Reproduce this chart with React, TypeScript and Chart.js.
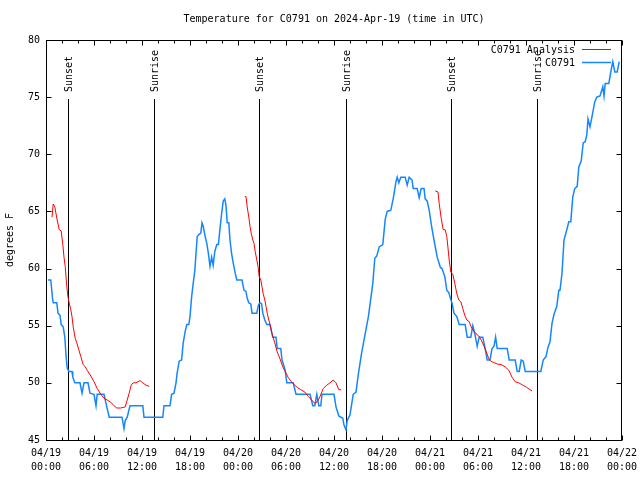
import React, { useEffect, useRef } from 'react';
import { Chart, registerables } from 'chart.js';

Chart.register(...registerables);

const TITLE = 'Temperature for C0791 on 2024-Apr-19 (time in UTC)';
const Y_TITLE = 'degrees F';
const ANALYSIS_LABEL = 'C0791 Analysis';
const OBS_LABEL = 'C0791';
const DAY_LABELS = ['04/19', '04/20', '04/21', '04/22'];

// hours since 2024-04-19 00:00 UTC
const SUNSET_HOURS = [2.79, 26.66, 50.66];
const SUNRISE_HOURS = [13.54, 37.45, 61.42];

const OBS_HOURS = [
  0.25, 0.6, 0.8, 0.9, 1.35, 1.5, 1.75, 1.9, 2.15, 2.35, 2.4, 2.5, 2.65, 2.85, 3.25, 3.35, 3.6, 4.25, 4.5, 4.75,
  5.25, 5.5, 6.0, 6.25, 6.4, 7.25, 7.5, 7.9, 9.5, 9.75, 9.9, 10.15, 10.5, 12.1, 12.25, 14.6, 14.75, 15.5, 15.7, 16.0,
  16.25, 16.4, 16.65, 16.95, 17.15, 17.4, 17.6, 17.85, 18.0, 18.2, 18.4, 18.6, 18.75, 18.9, 19.15, 19.35, 19.5, 19.65, 19.9, 20.1,
  20.3, 20.5, 20.7, 20.9, 21.1, 21.35, 21.55, 21.75, 21.95, 22.15, 22.35, 22.5, 22.65, 22.85, 23.0, 23.2, 23.4, 23.65, 23.85, 24.5,
  24.75, 25.0, 25.15, 25.35, 25.6, 25.75, 26.35, 26.55, 26.75, 26.95, 27.1, 27.35, 27.6, 28.0, 28.35, 28.75, 28.9, 29.35, 29.5, 29.65,
  29.9, 30.1, 30.9, 31.25, 33.0, 33.35, 33.6, 33.85, 34.1, 34.35, 34.5, 36.0, 36.25, 36.6, 37.1, 37.25, 37.5, 37.65, 38.0, 38.4,
  38.75, 39.05, 39.45, 39.9, 40.3, 40.6, 40.85, 41.1, 41.35, 41.65, 42.1, 42.4, 42.65, 43.1, 43.4, 43.75, 43.9, 44.1, 44.35, 44.9,
  45.15, 45.4, 45.75, 45.9, 46.4, 46.65, 46.9, 47.25, 47.4, 47.65, 47.9, 48.2, 48.5, 48.9, 49.3, 49.5, 49.85, 50.1, 50.35, 50.6,
  50.75, 51.0, 51.35, 51.65, 52.4, 52.65, 53.1, 53.35, 53.6, 53.9, 54.15, 54.6, 54.9, 55.15, 55.5, 55.75, 56.0, 56.2, 56.4, 57.65,
  57.9, 58.65, 58.9, 59.15, 59.4, 59.65, 59.9, 61.85, 62.15, 62.5, 62.75, 63.0, 63.25, 63.5, 63.85, 64.1, 64.25, 64.5, 64.75, 65.1,
  65.35, 65.6, 65.85, 66.1, 66.4, 66.6, 66.9, 67.15, 67.4, 67.6, 67.75, 68.0, 68.25, 68.6, 68.85, 69.25, 69.6, 69.75, 69.9, 70.35,
  70.6, 70.85, 71.1, 71.4, 71.65,
];
const OBS_TEMPS = [
  59.0, 59.0, 57.5, 57.0, 57.0, 56.1, 55.9, 55.1, 54.9, 54.0, 53.5, 52.4, 51.3, 51.0, 51.0, 50.5, 50.0, 50.0, 49.1, 50.0,
  50.0, 49.1, 49.0, 48.0, 49.0, 49.0, 48.2, 47.0, 47.0, 46.0, 46.7, 47.0, 48.0, 48.0, 47.0, 47.0, 48.0, 48.0, 49.0, 49.1,
  50.0, 50.9, 51.9, 52.0, 53.5, 54.5, 55.1, 55.1, 55.8, 57.5, 58.7, 59.8, 61.3, 62.8, 63.0, 63.1, 64.0, 63.7, 62.8, 62.2,
  61.3, 60.2, 61.0, 60.3, 61.5, 62.1, 62.1, 63.5, 64.8, 65.9, 66.1, 65.5, 64.0, 64.0, 62.5, 61.3, 60.5, 59.6, 59.0, 59.0,
  58.1, 58.0, 57.4, 57.0, 56.9, 56.1, 56.1, 56.8, 57.0, 56.9, 56.1, 55.5, 55.1, 55.1, 54.0, 54.0, 53.0, 53.0, 52.0, 51.7,
  51.1, 50.0, 50.0, 49.0, 49.0, 48.0, 48.0, 49.0, 48.0, 48.0, 49.0, 49.0, 47.9, 47.1, 46.9, 46.3, 45.9, 46.7, 47.2, 49.0,
  49.2, 50.8, 52.6, 54.3, 55.8, 57.4, 58.7, 60.9, 61.1, 61.9, 62.1, 64.3, 65.0, 65.1, 66.1, 67.6, 68.0, 67.5, 68.0, 68.0,
  67.3, 68.0, 67.75, 67.0, 67.0, 66.2, 67.0, 67.0, 66.1, 65.9, 65.1, 63.7, 62.5, 61.0, 60.1, 60.0, 59.3, 58.1, 57.9, 57.3,
  57.0, 56.1, 55.8, 55.1, 55.1, 54.0, 54.0, 55.0, 54.3, 53.2, 54.0, 54.0, 53.0, 52.0, 52.0, 53.0, 53.2, 54.0, 53.0, 53.0,
  52.0, 52.0, 51.0, 51.0, 52.0, 51.9, 51.0, 51.0, 52.0, 52.3, 53.1, 53.6, 55.2, 56.0, 56.7, 58.1, 58.1, 59.6, 62.5, 63.4,
  64.1, 64.1, 66.3, 67.0, 67.2, 68.9, 69.4, 71.0, 71.1, 71.7, 73.1, 72.4, 73.3, 74.6, 75.0, 75.1, 75.9, 75.1, 76.2, 76.2,
  77.2, 78.1, 77.2, 77.2, 78.1,
];

const ANALYSIS_HOURS = [
  0.75, 0.9, 1.1, 1.25, 1.4, 1.65, 1.9, 2.1, 2.25, 2.4, 2.6, 2.75, 2.9, 3.1, 3.25, 3.4, 3.65, 3.85, 4.1, 4.35,
  4.65, 4.9, 5.15, 5.6, 6.0, 6.4, 6.85, 7.25, 7.65, 8.1, 8.5, 8.85, 9.35, 9.9, 10.15, 10.4, 10.65, 10.9, 11.25, 11.75,
  12.1, 12.5, 12.9, 18.0,
  24.85, 25.0, 25.15, 25.35, 25.5, 25.65, 25.85, 26.0, 26.15, 26.35, 26.5, 26.65, 26.85, 27.0, 27.15, 27.35, 27.5, 27.65, 27.85, 28.0,
  28.25, 28.6, 28.9, 29.25, 29.6, 29.9, 30.25, 30.65, 31.1, 31.4, 31.85, 32.35, 32.8, 33.2, 33.6, 33.9, 34.25, 34.65, 35.1, 35.5,
  35.9, 36.25, 36.6, 36.9, 42.0,
  48.65, 49.0, 49.15, 49.4, 49.65, 49.9, 50.1, 50.25, 50.4, 50.6, 50.85, 51.1, 51.35, 51.6, 51.85, 52.1, 52.35, 52.6, 52.9, 53.15,
  53.4, 53.75, 54.1, 54.4, 54.75, 55.1, 55.35, 55.6, 55.9, 56.4, 56.9, 57.4, 57.85, 58.25, 58.65, 59.1, 59.6, 60.1, 60.5, 60.75,
];
const ANALYSIS_TEMPS = [
  64.5, 65.65, 65.4, 64.8, 64.25, 63.4, 63.3, 62.1, 61.0, 60.2, 58.4, 57.5, 57.0, 56.4, 55.8, 54.9, 53.9, 53.5, 52.9, 52.3,
  51.6, 51.4, 51.1, 50.6, 50.1, 49.5, 49.0, 48.65, 48.5, 48.3, 48.0, 47.8, 47.8, 47.9, 48.5, 49.1, 49.8, 50.0, 50.0, 50.2,
  50.0, 49.8, 49.7, null,
  66.3, 66.3, 65.4, 64.5, 63.7, 63.1, 62.5, 62.2, 61.5, 60.75, 60.2, 59.3, 59.0, 58.4, 57.8, 57.25, 56.7, 56.1, 55.5, 55.1,
  54.3, 53.5, 52.7, 52.1, 51.4, 51.0, 50.5, 50.1, 49.8, 49.6, 49.4, 49.2, 48.8, 48.5, 48.2, 48.35, 48.8, 49.5, 49.8, 50.0,
  50.25, 50.0, 49.4, 49.4, null,
  66.8, 66.7, 65.7, 64.4, 63.4, 63.4, 62.8, 61.8, 60.75, 59.7, 59.5, 58.7, 57.8, 57.25, 57.1, 56.5, 55.9, 55.5, 55.35, 54.9,
  54.6, 54.3, 54.1, 53.75, 53.2, 52.6, 52.1, 51.9, 51.8, 51.65, 51.6, 51.4, 51.1, 50.5, 50.1, 50.0, 49.8, 49.6, 49.4, 49.3,
];

const RED = '#ff0000';
const BLUE = 'rgb(20,135,255)';
const FONT_FAMILY = "'DejaVu Sans Mono', 'Liberation Mono', monospace";
const FONT = `10px ${FONT_FAMILY}`;

const pad2 = (n: number) => (n < 10 ? '0' + n : '' + n);

const gnuplotPlugin = {
  id: 'gnuplotDecor',
  beforeDatasetsDraw(chart: any) {
    const { ctx, chartArea } = chart;
    const xs = chart.scales.x;
    const ys = chart.scales.y;
    const L = Math.round(chartArea.left) + 0.5;
    const R = Math.round(chartArea.right) - 0.5;
    const T = Math.round(chartArea.top) + 0.5;
    const B = Math.round(chartArea.bottom) + 0.5;
    ctx.save();
    ctx.strokeStyle = '#000';
    ctx.lineWidth = 1;
    ctx.beginPath();
    // x ticks every 2 hours, major every 6
    for (let h = 0; h <= 72; h += 2) {
      const x = Math.round(xs.getPixelForValue(h)) + 0.5;
      const len = h % 6 === 0 ? 5 : 3;
      ctx.moveTo(x, B);
      ctx.lineTo(x, B - len);
      ctx.moveTo(x, T);
      ctx.lineTo(x, T + len);
    }
    for (let v = 45; v <= 80; v += 5) {
      const y = Math.round(ys.getPixelForValue(v)) + 0.5;
      ctx.moveTo(L, y);
      ctx.lineTo(L + 5, y);
      ctx.moveTo(R, y);
      ctx.lineTo(R - 5, y);
    }
    // sunrise / sunset lines
    const events = [...SUNSET_HOURS, ...SUNRISE_HOURS];
    for (const h of events) {
      const x = Math.round(xs.getPixelForValue(h)) + 0.5;
      ctx.moveTo(x, 99);
      ctx.lineTo(x, B);
    }
    ctx.stroke();
    ctx.strokeRect(L, T, R - L, B - T);
    ctx.restore();
  },
  afterDraw(chart: any) {
    const { ctx, chartArea } = chart;
    const xs = chart.scales.x;
    ctx.save();
    ctx.fillStyle = '#000';
    ctx.font = FONT;
    // title
    ctx.textAlign = 'center';
    ctx.textBaseline = 'middle';
    ctx.fillText(TITLE, (chartArea.left + chartArea.right) / 2, 19);
    // event labels
    const events = [
      ...SUNSET_HOURS.map((h) => ({ h, t: 'Sunset' })),
      ...SUNRISE_HOURS.map((h) => ({ h, t: 'Sunrise' })),
    ];
    for (const e of events) {
      const x = Math.round(xs.getPixelForValue(e.h)) + 0.5;
      ctx.save();
      ctx.translate(x + 1, 92);
      ctx.rotate(-Math.PI / 2);
      ctx.textAlign = 'left';
      ctx.textBaseline = 'middle';
      ctx.fillText(e.t, 0, 0);
      ctx.restore();
    }
    // legend
    ctx.textAlign = 'right';
    ctx.textBaseline = 'middle';
    ctx.fillText(ANALYSIS_LABEL, 575, 50);
    ctx.fillText(OBS_LABEL, 575, 63);
    ctx.lineWidth = 1;
    ctx.strokeStyle = RED;
    ctx.beginPath();
    ctx.moveTo(582, 49.5);
    ctx.lineTo(611, 49.5);
    ctx.stroke();
    ctx.lineWidth = 1.5;
    ctx.strokeStyle = BLUE;
    ctx.beginPath();
    ctx.moveTo(582, 62.5);
    ctx.lineTo(611, 62.5);
    ctx.stroke();
    ctx.restore();
  },
};

export default function App() {
  const canvasRef = useRef<HTMLCanvasElement | null>(null);

  useEffect(() => {
    document.body.style.margin = '0';
    const canvas = canvasRef.current;
    if (!canvas) return;
    const obsData = OBS_HOURS.map((h, i) => ({ x: h, y: OBS_TEMPS[i] }));
    const anaData = ANALYSIS_HOURS.map((h, i) => ({ x: h, y: ANALYSIS_TEMPS[i] }));
    const chart = new Chart(canvas, {
      type: 'line',
      data: {
        datasets: [
          {
            label: ANALYSIS_LABEL,
            data: anaData as any,
            borderColor: RED,
            borderWidth: 1,
            pointRadius: 0,
            tension: 0,
            spanGaps: false,
            fill: false,
          },
          {
            label: OBS_LABEL,
            data: obsData as any,
            borderColor: BLUE,
            borderWidth: 1.5,
            pointRadius: 0,
            tension: 0,
            fill: false,
          },
        ],
      },
      options: {
        responsive: false,
        animation: false,
        devicePixelRatio: 1,
        layout: { padding: { top: 40, right: 18, left: 0, bottom: 0 } },
        plugins: {
          legend: { display: false },
          title: { display: false },
          tooltip: { enabled: false },
        },
        scales: {
          x: {
            type: 'linear',
            min: 0,
            max: 72,
            grid: { display: false, drawTicks: false },
            border: { display: false },
            ticks: {
              stepSize: 6,
              autoSkip: false,
              maxRotation: 0,
              padding: 6,
              color: '#000',
              font: { family: FONT_FAMILY, size: 10, lineHeight: 1.4 },
              callback: (v: any) => {
                const n = Number(v);
                const d = Math.floor(n / 24);
                return [DAY_LABELS[d], pad2(n % 24) + ':00'];
              },
            },
            afterFit: (s: any) => {
              s.height = 40;
              s.paddingLeft = 0;
              s.paddingRight = 0;
            },
          },
          y: {
            min: 45,
            max: 80,
            grid: { display: false, drawTicks: false },
            border: { display: false },
            ticks: {
              stepSize: 5,
              padding: 6,
              color: '#000',
              font: { family: FONT_FAMILY, size: 10 },
            },
            title: {
              display: true,
              text: Y_TITLE,
              color: '#000',
              font: { family: FONT_FAMILY, size: 10 },
              padding: { top: 4, bottom: 0 },
            },
            afterFit: (s: any) => {
              s.width = 46;
              s.paddingTop = 0;
              s.paddingBottom = 0;
            },
          },
        },
      },
      plugins: [gnuplotPlugin],
    });
    return () => chart.destroy();
  }, []);

  return (
    <canvas
      ref={canvasRef}
      width={640}
      height={480}
      style={{ display: 'block', width: 640, height: 480 }}
    />
  );
}
